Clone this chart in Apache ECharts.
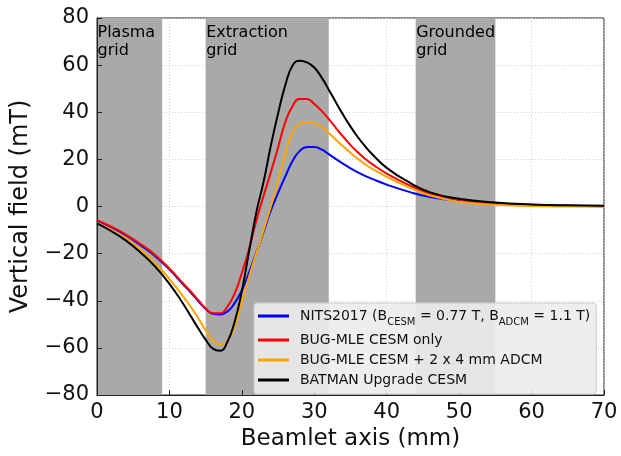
<!DOCTYPE html>
<html>
<head>
<meta charset="UTF-8">
<script src="https://cdn.jsdelivr.net/npm/echarts@6/dist/echarts.min.js"></script>
<style>
  html, body { margin: 0; padding: 0; background: #fff; }
  #chart { width: 621px; height: 456px; }
</style>
</head>
<body>
<div id="chart"></div>
<script>
// beamlet axis positions (mm)
const xs = [0, 2, 4, 6, 8, 10, 12, 13, 14, 15, 16, 17, 18, 19, 20, 21, 22, 23, 24, 25, 26, 27, 28, 29, 30, 31, 32, 33, 34, 35, 36, 37, 38, 40, 43, 46, 50, 55, 60, 65, 70];

// vertical field (mT)
const nits2017 = [-6.0, -8.9, -12.3, -16.4, -21.0, -26.8, -33.4, -36.7, -40.2, -43.5, -45.5, -45.8, -44.6, -41.0, -35.6, -28.0, -19.5, -10.7, -1.7, 5.8, 12.8, 19.3, 23.6, 25.3, 25.3, 24.2, 22.2, 20.1, 18.1, 16.2, 14.5, 13.0, 11.7, 9.3, 6.3, 4.0, 2.3, 1.1, 0.6, 0.3, 0.1];
const cesmOnly = [-5.8, -8.6, -11.9, -15.9, -20.5, -26.3, -33.0, -36.3, -39.8, -43.2, -45.3, -45.3, -42.5, -37.0, -28.2, -18.0, -6.0, 4.5, 14.5, 25.0, 35.8, 42.6, 45.6, 45.6, 43.5, 40.6, 37.1, 33.3, 29.6, 26.1, 23.0, 20.3, 18.0, 14.0, 9.2, 5.6, 3.0, 1.4, 0.7, 0.3, 0.1];
const cesmAdcm = [-7.0, -10.0, -13.6, -18.4, -24.0, -30.8, -38.6, -42.8, -47.5, -52.5, -56.8, -58.5, -57.0, -51.0, -40.5, -29.8, -19.8, -10.0, 0.0, 10.8, 22.3, 31.5, 35.0, 35.9, 35.4, 33.8, 31.2, 28.3, 25.5, 22.8, 20.3, 18.0, 16.0, 12.6, 8.2, 4.6, 2.0, 0.7, 0.2, 0.0, -0.1];
const batman = [-7.2, -10.5, -14.5, -19.5, -25.4, -32.8, -41.8, -46.8, -51.8, -56.5, -60.3, -61.2, -57.5, -49.0, -35.9, -19.0, -2.5, 10.5, 25.8, 39.5, 51.5, 59.8, 61.9, 61.2, 59.0, 54.8, 49.6, 44.1, 38.8, 33.9, 29.5, 25.6, 22.2, 16.4, 10.4, 6.0, 3.3, 1.7, 0.9, 0.5, 0.3];

const seriesNames = ['NITS2017', 'BUG-MLE CESM only', 'BUG-MLE CESM + 2 x 4 mm ADCM', 'BATMAN Upgrade CESM'];
const seriesColors = ['#0000ff', '#ff0000', '#ffa500', '#000000'];
const seriesValues = [nits2017, cesmOnly, cesmAdcm, batman];

// grid regions (mm)
const regions = [
  { name: 'Plasma\ngrid', from: 0, to: 9 },
  { name: 'Extraction\ngrid', from: 15, to: 32 },
  { name: 'Grounded\ngrid', from: 44, to: 55 }
];
const yMin = -80, yMax = 80;

const font = 'DejaVu Sans';
const minus = v => String(v).replace('-', '\u2212');

let chart = echarts.init(document.getElementById('chart'));

let series = [{
  name: 'regions',
  type: 'line',
  data: xs.map(x => [x, 0]),
  z: 0,
  silent: true,
  symbol: 'none',
  lineStyle: { opacity: 0 },
  markArea: {
    silent: true,
    itemStyle: { color: '#a9a9a9' },
    data: regions.map(r => [{ xAxis: r.from, yAxis: yMax }, { xAxis: r.to, yAxis: yMin }])
  }
}, {
  // region titles, at the top-left corner of each region
  name: 'regionLabels',
  type: 'scatter',
  z: 3,
  silent: true,
  symbolSize: 1,
  itemStyle: { color: 'rgba(0,0,0,0)' },
  label: {
    show: true,
    position: [1, 6],
    align: 'left',
    verticalAlign: 'top',
    formatter: p => regions[p.dataIndex].name,
    color: '#000',
    opacity: 1,
    fontFamily: font,
    fontSize: 16,
    lineHeight: 18
  },
  data: regions.map(r => [r.from, yMax])
}];

seriesValues.forEach(function (vals, i) {
  series.push({
    name: seriesNames[i],
    type: 'line',
    z: 2,
    smooth: 0.5,
    symbol: 'none',
    color: seriesColors[i],
    lineStyle: { width: 2, color: seriesColors[i] },
    data: xs.map((x, k) => [x, vals[k]])
  });
});

let option = {
  animation: false,
  textStyle: { fontFamily: font },
  grid: {
    left: 97, right: 17, top: 18, bottom: 58,
    show: true, borderColor: '#222', borderWidth: 1
  },
  legend: {
    data: seriesNames,
    orient: 'vertical',
    left: 254, top: 303,
    z: 10,
    backgroundColor: 'rgba(236,236,236,0.9)',
    borderColor: '#cccccc',
    borderWidth: 1,
    borderRadius: 3,
    padding: [6, 6, 7, 4],
    itemGap: 6,
    itemWidth: 31,
    itemHeight: 3,
    icon: 'rect',
    formatter: function (name) {
      if (name === 'NITS2017') {
        return '{t|NITS2017 (B}{s|CESM}{t| = 0.77 T, B}{s|ADCM}{t| = 1.1 T)}';
      }
      return '{t|' + name + '}';
    },
    textStyle: {
      fontFamily: font,
      fontSize: 14,
      color: '#111',
      padding: [0, 0, 0, 6],
      rich: {
        t: { fontFamily: font, fontSize: 14, lineHeight: 16, color: '#111' },
        s: { fontFamily: font, fontSize: 10, lineHeight: 10, verticalAlign: 'bottom', color: '#111', padding: [0, 0, -3, 0] }
      }
    }
  },
  xAxis: {
    type: 'value',
    min: 0, max: 70, interval: 10,
    z: 1,
    name: 'Beamlet axis (mm)',
    nameLocation: 'middle',
    nameGap: 33,
    nameTextStyle: { fontFamily: font, fontSize: 23, color: '#111' },
    axisLine: { show: true, onZero: false, lineStyle: { color: '#222' } },
    axisTick: { show: true, inside: true, length: 5, lineStyle: { color: '#222' } },
    axisLabel: { fontFamily: font, fontSize: 21, color: '#111', margin: 7, formatter: minus },
    splitLine: { show: true, lineStyle: { color: '#cfcfcf', type: [1, 2], width: 1 } }
  },
  yAxis: {
    type: 'value',
    min: yMin, max: yMax, interval: 20,
    z: 1,
    name: 'Vertical field (mT)',
    nameLocation: 'middle',
    nameGap: 64,
    nameTextStyle: { fontFamily: font, fontSize: 24, color: '#111' },
    axisLine: { show: true, onZero: false, lineStyle: { color: '#222' } },
    axisTick: { show: true, inside: true, length: 5, lineStyle: { color: '#222' } },
    axisLabel: { fontFamily: font, fontSize: 21, color: '#111', margin: 8, formatter: minus },
    splitLine: { show: true, lineStyle: { color: '#cfcfcf', type: [1, 2], width: 1 } }
  },
  series: series
};

chart.setOption(option);
</script>
</body>
</html>
